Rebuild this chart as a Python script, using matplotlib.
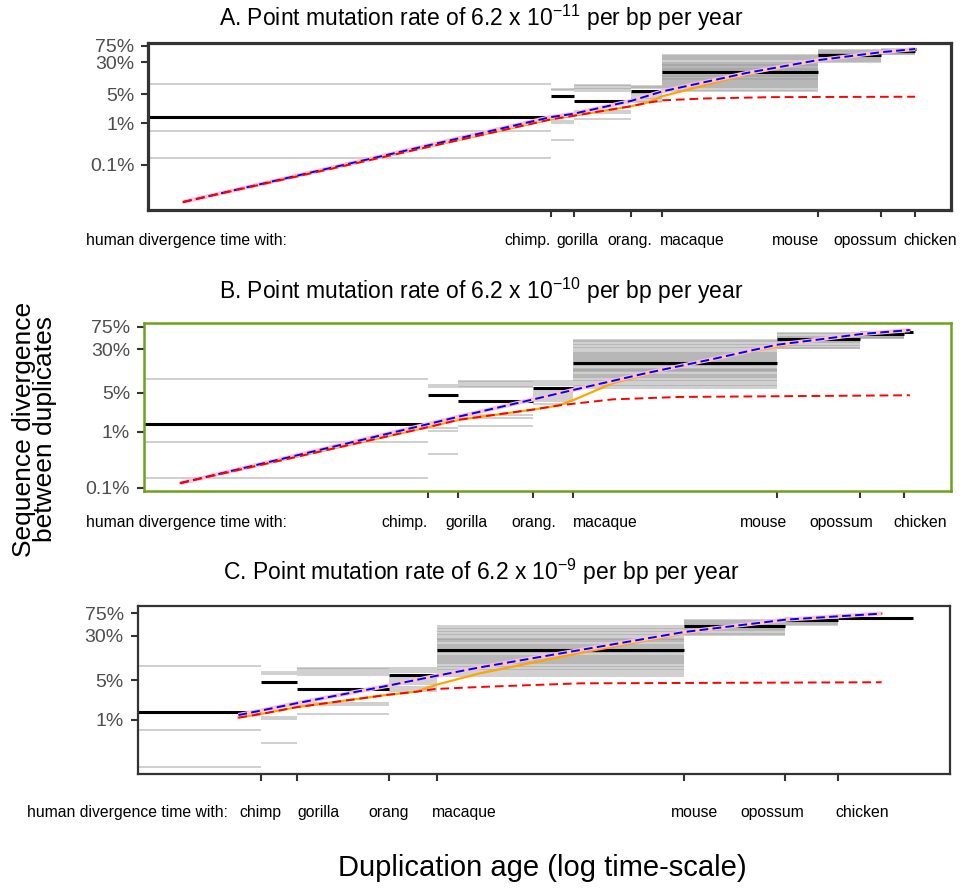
import matplotlib.pyplot as plt
from matplotlib import transforms
from matplotlib.ticker import NullLocator

plt.rcParams['font.family'] = ['Liberation Sans', 'DejaVu Sans']
plt.rcParams['mathtext.default'] = 'regular'

# human divergence time with each species (My, log axis)
species_age = [6, 7.57, 13.6, 18.5, 90, 172, 242]
labels_ab = ['chimp.', 'gorilla', 'orang.', 'macaque', 'mouse', 'opossum', 'chicken']
labels_c = ['chimp', 'gorilla', 'orang', 'macaque', 'mouse', 'opossum', 'chicken']

# median divergence (%) of duplicates in each age class
median_div = [1.4, 4.6, 3.55, 6.1, 17.2, 45, 56, 62]

# divergence (%) of individual duplicates per age class
div_human = [8.9, 0.67, 0.15]
div_chimp = [6.9, 6.4, 1.15, 1.04, 0.40]
div_gorilla = [8.2, 7.8, 7.2, 6.7, 6.2, 2.0, 1.8, 1.25]
div_orang = [8.1, 7.4, 7.0, 5.4, 5.0, 4.6, 4.2, 3.8, 3.5, 3.2]
div_macaque = [44, 42, 40, 37, 35, 33, 31, 29, 27, 26, 25, 24, 23, 22, 21, 20,
               19, 18.5, 18, 17, 16, 15.5, 15, 14, 13.5, 13, 12.5, 12, 11.5, 11,
               10.5, 10, 9.5, 9, 8.5, 8, 7.5, 7, 6.5, 6.0]
div_mouse = [58, 55, 52, 50, 48, 46, 44, 42, 40, 38, 36, 34, 32, 31]
div_opossum = [62, 60, 58, 56, 54, 52, 50, 48, 47]
div_chicken = []
dup_div = [div_human, div_chimp, div_gorilla, div_orang, div_macaque,
           div_mouse, div_opossum, div_chicken]

# oldest / youngest duplication age per panel (My)
age_start = [0.101, 0.662, 2.73]
age_end = [244, 259, 389]
age_max = [350, 348, 494]

# expected divergence curves, panel A (6.2e-11)
blue_x_a = [0.1437, 6, 7.57, 13.6, 18.6, 43.7, 88.8, 172, 242]
blue_y_a = [0.0128, 1.42, 1.71, 3.5, 5.9, 16.4, 33, 52, 62]
orange_x_a = [0.1437, 6, 7.57, 13.6, 15.8, 18.6, 43.7, 88.8, 172, 242]
orange_y_a = [0.0128, 1.25, 1.53, 2.6, 3.1, 4.5, 15, 33, 52, 62]
red_x_a = [0.1437, 6, 7.57, 13.6, 15.8, 18.6, 29.1, 57, 242]
red_y_a = [0.0128, 1.25, 1.53, 2.6, 3.1, 3.6, 4.0, 4.3, 4.4]

# panel B (6.2e-10)
blue_x_b = [0.878, 6, 7.63, 13.6, 18.8, 32.7, 54.8, 90, 126, 173, 253]
blue_y_b = [0.121, 1.37, 1.87, 3.8, 5.7, 11.2, 20, 36, 45, 56, 66]
orange_x_b = [0.878, 6, 7.63, 13.6, 16.5, 18.8, 25.2, 42.4, 71.2, 90, 126, 173, 253]
orange_y_b = [0.121, 1.21, 1.64, 2.5, 2.95, 3.8, 7.4, 15, 26.5, 33, 45, 56, 66]
red_x_b = [0.878, 6, 7.63, 13.6, 16.5, 18.8, 25.2, 42.4, 253]
red_y_b = [0.121, 1.21, 1.64, 2.5, 2.95, 3.2, 3.8, 4.2, 4.5]

# panel C (6.2e-9)
blue_x_c = [5.2, 6, 7.52, 13.4, 18.3, 24.4, 46.2, 89.8, 173, 319]
blue_y_c = [1.22, 1.46, 1.96, 3.95, 5.9, 8.4, 16.9, 35, 58, 74]
orange_x_c = [5.2, 6, 7.52, 13.4, 16.3, 18.3, 24.4, 46.2, 89.8, 173, 319]
orange_y_c = [1.1, 1.27, 1.67, 2.75, 3.15, 4.1, 6.6, 15, 33, 58, 74]
red_x_c = [5.2, 6, 7.52, 13.4, 16.3, 18.3, 24.4, 46.2, 319]
red_y_c = [1.1, 1.27, 1.67, 2.75, 3.15, 3.5, 3.8, 4.4, 4.6]

curves = [
    (blue_x_a, blue_y_a, orange_x_a, orange_y_a, red_x_a, red_y_a),
    (blue_x_b, blue_y_b, orange_x_b, orange_y_b, red_x_b, red_y_b),
    (blue_x_c, blue_y_c, orange_x_c, orange_y_c, red_x_c, red_y_c),
]

y_ticks = [[75, 30, 5, 1, 0.1], [75, 30, 5, 1, 0.1], [75, 30, 5, 1]]
y_ticklabels = [['75%', '30%', '5%', '1%', '0.1%'],
                ['75%', '30%', '5%', '1%', '0.1%'],
                ['75%', '30%', '5%', '1%']]
y_limits = [(0.0082, 85.7), (0.0873, 88.3), (0.111, 99.5)]
titles = ['A. Point mutation rate of 6.2 x 10$^{-11}$ per bp per year',
          'B. Point mutation rate of 6.2 x 10$^{-10}$ per bp per year',
          'C. Point mutation rate of 6.2 x 10$^{-9}$ per bp per year']

# layout
axes_rects = [[0.154, 0.764, 0.834, 0.1875],
              [0.1495, 0.4483, 0.838, 0.1888],
              [0.143, 0.130, 0.8435, 0.1888]]
frame_colors = ['#333333', '#6fa11d', '#333333']
frame_widths = [2.3, 1.8, 1.6]
title_y = [0.9798, 0.673, 0.357]
label_y = [0.7303, 0.4124, 0.0876]
human_x = [0.0893, 0.0893, 0.028]
label_x = [[4.75, 7.89, 13.4, 25.3, 72.1, 146.5, 283],
           [5.02, 8.12, 13.6, 23.7, 81.4, 149, 275],
           [6.0, 8.7, 13.6, 22.1, 96.6, 158, 281]]

fig = plt.figure(figsize=(9.63, 8.9), dpi=100)

for i in range(3):
    ax = fig.add_axes(axes_rects[i])
    ax.set_xscale('log')
    ax.set_yscale('log')

    bounds = [age_start[i]] + species_age + [age_end[i]]
    for k in range(len(dup_div)):
        if dup_div[k]:
            ax.hlines(dup_div[k], bounds[k], bounds[k + 1], color='#999999',
                      lw=1.3, alpha=0.5)
    ax.hlines(median_div, bounds[:-1], bounds[1:], color='black', lw=2.2)

    bx, by, ox, oy, rx, ry = curves[i]
    ax.plot(ox, oy, color='orange', lw=1.6)
    ax.plot(bx, by, color='pink', lw=3.0, solid_capstyle='butt')
    ax.plot(bx, by, color='blue', lw=1.4, ls=(0, (4.5, 2.2)))
    ax.plot(rx, ry, color='red', lw=1.4, ls=(0, (4.5, 2.5)))

    ax.set_xlim(age_start[i], age_max[i])
    ax.set_ylim(*y_limits[i])

    ax.set_xticks(species_age)
    ax.xaxis.set_minor_locator(NullLocator())
    ax.tick_params(axis='x', length=5, width=1.5, color='#333333',
                   labelbottom=False)
    ax.set_yticks(y_ticks[i])
    ax.set_yticklabels(y_ticklabels[i])
    ax.yaxis.set_minor_locator(NullLocator())
    ax.tick_params(axis='y', length=5, width=1.5, color='#333333',
                   labelsize=14, labelcolor='#4d4d4d', pad=5)
    for sp in ax.spines.values():
        sp.set_color(frame_colors[i])
        sp.set_linewidth(frame_widths[i])

    fig.text(0.5, title_y[i], titles[i], ha='center', va='center', fontsize=16.5)

    trans = transforms.blended_transform_factory(ax.transData, fig.transFigure)
    names = labels_c if i == 2 else labels_ab
    for name, x in zip(names, label_x[i]):
        ax.text(x, label_y[i], name, transform=trans, ha='center', va='center',
                fontsize=11.3, clip_on=False)
    fig.text(human_x[i], label_y[i], 'human divergence time with:',
             ha='left', va='center', fontsize=11.3)

fig.text(0.036, 0.518, 'Sequence divergence\nbetween duplicates', rotation=90,
         ha='center', va='center', fontsize=19, linespacing=0.85)
fig.text(0.563, 0.0247, 'Duplication age (log time-scale)', ha='center',
         va='center', fontsize=21)

fig.savefig('out.png', dpi=100)
